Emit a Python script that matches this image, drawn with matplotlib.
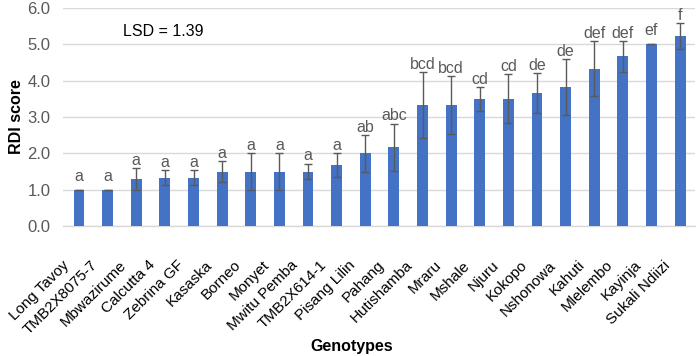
import matplotlib
matplotlib.use("Agg")
import matplotlib.pyplot as plt
from matplotlib.transforms import ScaledTranslation, blended_transform_factory
import numpy as np

genotypes = ["Long Tavoy", "TMB2X8075-7", "Mbwazirume", "Calcutta 4", "Zebrina GF",
             "Kasaska", "Borneo", "Monyet", "Mwitu Pemba", "TMB2X614-1", "Pisang Lilin",
             "Pahang", "Hutishamba", "Mraru", "Mshale", "Njuru", "Kokopo", "Nshonowa",
             "Kahuti", "Mlelembo", "Kayinja", "Sukali Ndiizi"]
rdi_score = [1.0, 1.0, 1.3, 1.33, 1.33, 1.5, 1.5, 1.5, 1.5, 1.67, 2.0,
             2.17, 3.33, 3.33, 3.5, 3.5, 3.67, 3.83, 4.33, 4.67, 5.0, 5.22]
errors = [0.0, 0.0, 0.3, 0.2, 0.2, 0.3, 0.5, 0.5, 0.22, 0.33, 0.5,
          0.65, 0.9, 0.8, 0.33, 0.67, 0.55, 0.77, 0.75, 0.42, 0.0, 0.36]
groups = ["a", "a", "a", "a", "a", "a", "a", "a", "a", "a", "ab",
          "abc", "bcd", "bcd", "cd", "cd", "de", "de", "def", "def", "ef", "f"]
y_ticks = [0.0, 1.0, 2.0, 3.0, 4.0, 5.0, 6.0]
lsd_text = "LSD = 1.39"

plt.rcParams['font.family'] = ['Liberation Sans', 'DejaVu Sans']

W, H, DPI = 696, 356, 100
fig = plt.figure(figsize=(W / DPI, H / DPI), dpi=DPI)
ax = fig.add_axes([63 / W, 1 - 226 / H, (695 - 63) / W, (226 - 8) / H])

x = np.arange(len(genotypes))
ax.bar(x, rdi_score, width=0.38, color="#4472C4", zorder=3)
ax.errorbar(x, rdi_score, yerr=errors, fmt="none", ecolor="#5a5a5a",
            elinewidth=1.0, capsize=3, capthick=1.0, zorder=4)

for xi, v, e, g in zip(x, rdi_score, errors, groups):
    off = 2.2 if e > 0 else 6.5
    ax.annotate(g, (xi, v + e), xytext=(0, off), textcoords="offset points",
                ha="center", va="baseline", fontsize=11.5, color="#595959")

ax.set_ylim(0, 6.0)
ax.set_xlim(-0.56, 21.52)
ax.set_yticks(y_ticks)
ax.set_yticklabels([f"{t:.1f}" for t in y_ticks], fontsize=12, color="#595959")
ax.tick_params(axis="y", length=0, pad=9)
ax.yaxis.grid(True, color="#D9D9D9", linewidth=1.0, zorder=0)
ax.set_axisbelow(True)
for s in ["top", "right", "left"]:
    ax.spines[s].set_visible(False)
ax.spines["bottom"].set_color("#D9D9D9")
ax.spines["bottom"].set_linewidth(1.0)

# category labels, rotated, ending just left of and below each tick
ax.set_xticks(x)
ax.set_xticklabels([])
ax.tick_params(axis="x", length=0)
trans = blended_transform_factory(ax.transData, ax.transAxes) + \
    ScaledTranslation(-17 / DPI, -32 / DPI, fig.dpi_scale_trans)
for xi, name in zip(x, genotypes):
    ax.text(xi, 0, name, transform=trans, rotation=45, rotation_mode="anchor",
            ha="right", va="top", fontsize=11, color="#000000", clip_on=False)

ax.set_ylabel("RDI score", fontsize=11.5, fontweight="bold", va="center")
ax.yaxis.set_label_coords(-(63 - 16) / 632, 0.5)
ax.set_xlabel("Genotypes", fontsize=11.5, fontweight="bold", va="center")
ax.xaxis.set_label_coords((352 - 63) / 632, (226 - 347) / 218)

ax.text((123 - 63) / 632, (226 - 31) / 218, lsd_text, transform=ax.transAxes,
        fontsize=11.5, ha="left", va="center", color="#000000")

fig.savefig("out.png", dpi=DPI)
